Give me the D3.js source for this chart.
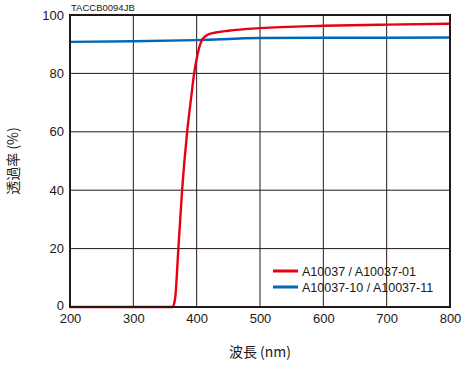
<!DOCTYPE html>
<html>
<head>
<meta charset="utf-8">
<script src="https://cdn.jsdelivr.net/npm/d3@7"></script>
<style>
  body { margin: 0; background: #fff; }
  svg { display: block; font-family: "Liberation Sans", Arial, sans-serif; }
</style>
</head>
<body>
<div id="chart"></div>
<script>
  // Transmittance curves (wavelength nm, %)
  const redWavelengths = [200, 300, 355, 362, 366, 371, 377, 385, 392, 396, 400, 403, 407, 412, 418, 430, 450, 500, 600, 700, 800];
  const redValues = [0, 0, 0, 0, 3, 19.5, 40, 60, 73, 80, 85, 88, 90.8, 92.4, 93.3, 94.0, 94.6, 95.5, 96.3, 96.7, 97.0];
  const blueWavelengths = [200, 300, 400, 500, 600, 700, 800];
  const blueValues = [90.8, 91.0, 91.4, 92.1, 92.2, 92.2, 92.3];

  const xTicks = [200, 300, 400, 500, 600, 700, 800];
  const yTicks = [0, 20, 40, 60, 80, 100];
  const seriesNames = ['A10037 / A10037-01', 'A10037-10 / A10037-11'];
  const seriesColors = ['#e60012', '#0068b7'];

  const width = 464, height = 365;
  const margin = { left: 70, right: 14, top: 15, bottom: 58 };

  const svg = d3.select('#chart').append('svg')
    .attr('width', width)
    .attr('height', height);

  const x = d3.scaleLinear().domain([200, 800]).range([margin.left, width - margin.right]);
  const y = d3.scaleLinear().domain([0, 100]).range([height - margin.bottom, margin.top]);

  // Grid
  svg.append('g')
    .selectAll('line')
    .data(xTicks.slice(1, -1))
    .join('line')
    .attr('x1', d => x(d)).attr('x2', d => x(d))
    .attr('y1', y(0)).attr('y2', y(100))
    .attr('stroke', '#231815').attr('stroke-width', 1);
  svg.append('g')
    .selectAll('line')
    .data(yTicks.slice(1, -1))
    .join('line')
    .attr('x1', x(200)).attr('x2', x(800))
    .attr('y1', d => y(d)).attr('y2', d => y(d))
    .attr('stroke', '#231815').attr('stroke-width', 1);

  // Curves
  const line = d3.line().x(d => x(d[0])).y(d => y(d[1])).curve(d3.curveMonotoneX);
  const blueData = d3.zip(blueWavelengths, blueValues);
  const redData = d3.zip(redWavelengths, redValues);

  svg.append('path').datum(blueData)
    .attr('d', line).attr('fill', 'none')
    .attr('stroke', seriesColors[1]).attr('stroke-width', 2.4);
  svg.append('path').datum(redData)
    .attr('d', line).attr('fill', 'none')
    .attr('stroke', seriesColors[0]).attr('stroke-width', 2.4);

  // Frame
  svg.append('rect')
    .attr('x', x(200)).attr('y', y(100))
    .attr('width', x(800) - x(200)).attr('height', y(0) - y(100))
    .attr('fill', 'none').attr('stroke', '#231815').attr('stroke-width', 2);

  // Axes (labels only)
  const xAxis = svg.append('g')
    .attr('transform', 'translate(0,' + y(0) + ')')
    .call(d3.axisBottom(x).tickValues(xTicks).tickSize(0).tickPadding(7));
  const yAxis = svg.append('g')
    .attr('transform', 'translate(' + x(200) + ',0)')
    .call(d3.axisLeft(y).tickValues(yTicks).tickSize(0).tickPadding(6));
  [xAxis, yAxis].forEach(a => {
    a.select('.domain').remove();
    a.selectAll('text')
      .attr('font-family', '"Liberation Sans", Arial, sans-serif')
      .attr('font-size', 13)
      .attr('fill', '#231815');
  });
  // the "0" label sits a little above the axis line, clear of "200"
  yAxis.selectAll('.tick').filter(d => d === 0).select('text').attr('dy', '0.2em');

  // Code label
  svg.append('text')
    .attr('x', 71).attr('y', 11)
    .attr('font-size', 9.5).attr('fill', '#231815')
    .text('TACCB0094JB');

  // Axis titles
  svg.append('text')
    .attr('x', 260).attr('y', 357)
    .attr('text-anchor', 'middle')
    .attr('font-size', 14).attr('fill', '#231815')
    .attr('font-family', '"Noto Sans CJK JP", sans-serif')
    .text('波長 (nm)');
  svg.append('text')
    .attr('transform', 'translate(18,' + y(50) + ') rotate(-90)')
    .attr('text-anchor', 'middle')
    .attr('font-size', 14).attr('fill', '#231815')
    .attr('font-family', '"Noto Sans CJK JP", sans-serif')
    .text('透過率 (%)');

  // Legend
  const legend = svg.append('g').attr('transform', 'translate(273,273)');
  const item = legend.selectAll('g')
    .data(seriesNames)
    .join('g')
    .attr('transform', (d, i) => 'translate(0,' + (i * 16) + ')');
  item.append('line')
    .attr('x1', 0).attr('x2', 25)
    .attr('y1', -2).attr('y2', -2)
    .attr('stroke', (d, i) => seriesColors[i])
    .attr('stroke-width', 3);
  item.append('text')
    .attr('x', 29).attr('y', 3)
    .attr('font-size', 12.5).attr('fill', '#231815')
    .text(d => d);
</script>
</body>
</html>
